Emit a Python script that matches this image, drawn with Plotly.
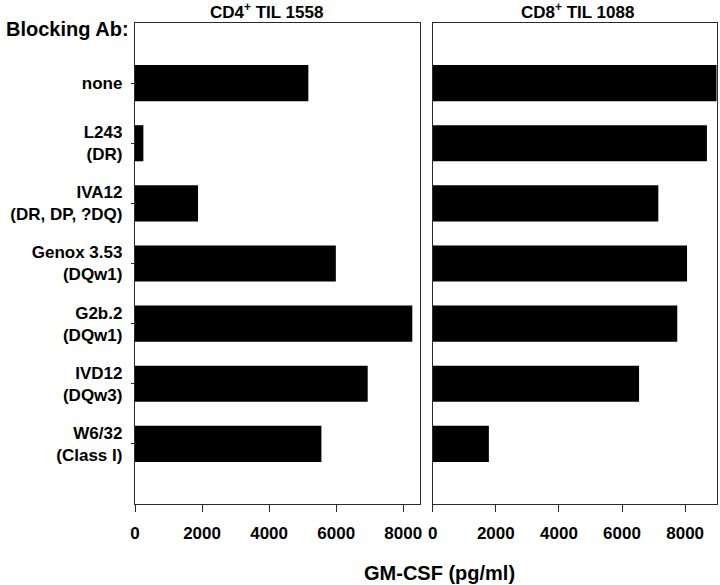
import plotly.graph_objects as go

antibodies = ["none", "L243<br>(DR)", "IVA12<br>(DR, DP, ?DQ)", "Genox 3.53<br>(DQw1)",
              "G2b.2<br>(DQw1)", "IVD12<br>(DQw3)", "W6/32<br>(Class I)"]
cd4_til1558 = [5170, 250, 1880, 5990, 8270, 6940, 5560]
cd8_til1088 = [9000, 8690, 7150, 8060, 7750, 6540, 1780]
x_ticks = [0, 2000, 4000, 6000, 8000]

W, H = 720, 585
FONT = "Liberation Sans, Arial, Helvetica, sans-serif"

fig = go.Figure()
fig.add_trace(go.Bar(x=cd4_til1558, y=antibodies, orientation="h", width=0.6,
                     marker=dict(color="black", line=dict(width=0)),
                     xaxis="x", yaxis="y", showlegend=False))
fig.add_trace(go.Bar(x=cd8_til1088, y=antibodies, orientation="h", width=0.6,
                     marker=dict(color="black", line=dict(width=0)),
                     xaxis="x2", yaxis="y2", showlegend=False))

ydom = [(H - 504) / H, (H - 23) / H]
axis_line = dict(showline=True, linecolor="#2a2a2a", linewidth=1.3, mirror=True,
                 showgrid=False, zeroline=False)
xcommon = dict(tickvals=x_ticks, ticks="outside", ticklen=7, tickcolor="#2a2a2a",
               tickwidth=1.3, ticklabelstandoff=6,
               tickfont=dict(family=FONT, size=17, color="black", weight="bold"),
               **axis_line)

fig.update_layout(
    width=W, height=H,
    margin=dict(l=0, r=0, t=0, b=0, autoexpand=False),
    plot_bgcolor="white", paper_bgcolor="white",
    bargap=0.4,
    xaxis=dict(domain=[135 / W, 420 / W], range=[0, 8500], anchor="y", **xcommon),
    xaxis2=dict(domain=[432.7 / W, 716.7 / W], range=[0, 9000], anchor="y2", **xcommon),
    yaxis=dict(domain=ydom, anchor="x", type="category", categoryorder="array",
               categoryarray=antibodies, range=[7, -1], ticks="outside", ticklen=3,
               tickcolor="#2a2a2a", ticklabelstandoff=5,
               tickfont=dict(family=FONT, size=17, color="black", weight="bold"),
               **axis_line),
    yaxis2=dict(domain=ydom, anchor="x2", type="category", categoryorder="array",
                categoryarray=antibodies, range=[7, -1], showticklabels=False,
                ticks="", **axis_line),
    annotations=[
        dict(text="Blocking Ab:", x=4 / W, y=1 - 29 / H, xref="paper", yref="paper",
             xanchor="left", yanchor="middle", showarrow=False,
             font=dict(family=FONT, size=20, color="black", weight="bold")),
        dict(text="CD4<sup>+</sup> TIL 1558", x=266.5 / W, y=1 - 11 / H, xref="paper",
             yref="paper", xanchor="center", yanchor="middle", showarrow=False,
             font=dict(family=FONT, size=17, color="black", weight="bold")),
        dict(text="CD8<sup>+</sup> TIL 1088", x=577 / W, y=1 - 11 / H, xref="paper",
             yref="paper", xanchor="center", yanchor="middle", showarrow=False,
             font=dict(family=FONT, size=17, color="black", weight="bold")),
        dict(text="GM-CSF (pg/ml)", x=439 / W, y=1 - 573 / H, xref="paper",
             yref="paper", xanchor="center", yanchor="middle", showarrow=False,
             font=dict(family=FONT, size=20, color="black", weight="bold")),
    ],
)

fig.write_html("out.html",
               config={"displayModeBar": False},
               post_script="document.body.style.margin='0';"
                           "document.body.style.overflow='hidden';")
